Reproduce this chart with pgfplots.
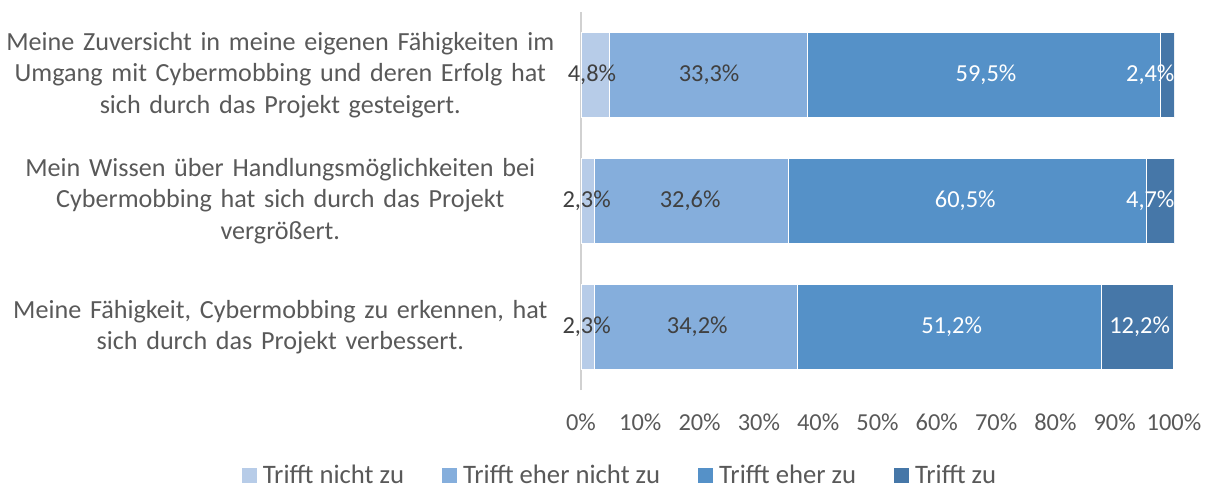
\documentclass[border=0pt]{standalone}
\usepackage{pgfplots}
\pgfplotsset{compat=1.18}
\usepackage{fontspec}
\setmainfont{Carlito}
\definecolor{cA}{HTML}{B7CCE8}
\definecolor{cB}{HTML}{85AEDC}
\definecolor{cC}{HTML}{5591C8}
\definecolor{cD}{HTML}{4677A8}
\definecolor{txt}{HTML}{595959}
\definecolor{dl}{HTML}{404040}
\begin{document}
\begin{tikzpicture}
\useasboundingbox (-435.75pt,-72pt) rectangle (471pt,292.5pt);
\begin{axis}[
  at={(0,0)}, anchor=south west,
  scale only axis, width=444.75pt, height=283.5pt,
  xbar stacked, bar width=63.75pt,
  xmin=0, xmax=100, ymin=-0.5, ymax=2.5,
  axis x line*=bottom, axis y line*=left,
  x axis line style={draw=none},
  y axis line style={draw=black!18, line width=0.8pt},
  major tick length=0pt,
  xtick={0,10,...,100},
  xticklabel={\pgfmathprintnumber{\tick}\%},
  xticklabel style={font=\fontsize{18.3}{20}\selectfont, text=txt, anchor=center, yshift=-24pt},
  /pgf/number format/assume math mode=true,
  ytick={0,1,2},
  yticklabels={{Meine Fähigkeit, Cybermobbing zu erkennen, hat\\sich durch das Projekt verbessert.},
               {Mein Wissen über Handlungsmöglichkeiten bei\\Cybermobbing hat sich durch das Projekt\\vergrößert.},
               {Meine Zuversicht in meine eigenen Fähigkeiten im\\Umgang mit Cybermobbing und deren Erfolg hat\\sich durch das Projekt gesteigert.}},
  yticklabel style={font=\fontsize{19.6}{23.5}\selectfont, text=txt, align=center, text width=420pt, anchor=east, xshift=-12pt},
  legend columns=4,
  legend style={draw=none, at={(0.0658,-0.225)}, anchor=center, inner sep=0pt,
    nodes={inner sep=1.5pt, font=\fontsize{20}{21}\selectfont, text=txt},
    /tikz/every odd column/.append style={column sep=3pt},
    /tikz/every even column/.append style={column sep=27pt}},
  legend image code/.code={\fill[#1,draw=none] (0pt,-5.6pt) rectangle (11.25pt,5.6pt);},
]
\addplot[fill=cA, draw=white, line width=0.4pt] coordinates {(2.3,0) (2.3,1) (4.8,2)};
\addplot[fill=cB, draw=white, line width=0.4pt] coordinates {(34.2,0) (32.6,1) (33.3,2)};
\addplot[fill=cC, draw=white, line width=0.4pt] coordinates {(51.2,0) (60.5,1) (59.5,2)};
\addplot[fill=cD, draw=white, line width=0.4pt] coordinates {(12.2,0) (4.7,1) (2.4,2)};
\legend{Trifft nicht zu, Trifft eher nicht zu, Trifft eher zu, Trifft zu}
\end{axis}
\begin{axis}[
  at={(0,0)}, anchor=south west,
  scale only axis, width=444.75pt, height=283.5pt,
  xmin=0, xmax=100, ymin=-0.5, ymax=2.5,
  hide axis, clip=false,
  nodes near coords, point meta=explicit symbolic,
  every node near coord/.append style={anchor=center, font=\fontsize{18.3}{20}\selectfont},
]
\addplot[draw=none, mark=none, nodes near coords style={text=dl}] coordinates {
  (0.95,0) [2,3\%] (19.6,0) [34,2\%]
  (0.95,1) [2,3\%] (18.4,1) [32,6\%]
  (1.85,2) [4,8\%] (21.6,2) [33,3\%]};
\addplot[draw=none, mark=none, nodes near coords style={text=white}] coordinates {
  (62.5,0) [51,2\%] (94.2,0) [12,2\%]
  (64.8,1) [60,5\%] (96.0,1) [4,7\%]
  (68.3,2) [59,5\%] (96.0,2) [2,4\%]};
\end{axis}
\end{tikzpicture}
\end{document}
